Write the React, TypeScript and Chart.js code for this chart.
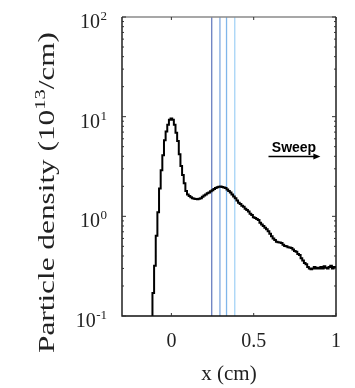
import React, { useEffect, useRef } from "react";
import { Chart, registerables } from "chart.js";

Chart.register(...registerables);

// Left edges of the histogram bins (cm) and the particle density in each bin (10^13 /cm)
const binEdges = [
  -0.125, -0.115, -0.105, -0.095, -0.085, -0.075, -0.065, -0.055, -0.045, -0.035,
  -0.025, -0.015, -0.005, 0.005, 0.015, 0.025, 0.035, 0.045, 0.055, 0.065,
  0.075, 0.085, 0.095, 0.105, 0.115, 0.125, 0.135, 0.145, 0.155, 0.165,
  0.175, 0.185, 0.195, 0.205, 0.215, 0.225, 0.235, 0.245, 0.255, 0.265,
  0.275, 0.285, 0.295, 0.305, 0.315, 0.325, 0.335, 0.345, 0.355, 0.365,
  0.375, 0.385, 0.395, 0.405, 0.415, 0.425, 0.435, 0.445, 0.455, 0.465,
  0.475, 0.485, 0.495, 0.505, 0.515, 0.525, 0.535, 0.545, 0.555, 0.565,
  0.575, 0.585, 0.595, 0.605, 0.615, 0.625, 0.635, 0.645, 0.655, 0.665,
  0.675, 0.685, 0.695, 0.705, 0.715, 0.725, 0.735, 0.745, 0.755, 0.765,
  0.775, 0.785, 0.795, 0.805, 0.815, 0.825, 0.835, 0.845, 0.855, 0.865,
  0.875, 0.885, 0.895, 0.905, 0.915, 0.925, 0.935, 0.945, 0.955, 0.965,
  0.975, 0.985, 0.995, 1.005,
];
const density = [
  0.03, 0.17, 0.32, 0.64, 1.1, 1.9, 2.9, 4.1, 5.8, 7.1,
  8.3, 9.3, 9.6, 9.3, 8.3, 6.9, 5.7, 4.2, 3.2, 2.6,
  2.15, 1.8, 1.66, 1.6, 1.55, 1.52, 1.5, 1.49, 1.48, 1.5,
  1.52, 1.57, 1.62, 1.66, 1.7, 1.73, 1.78, 1.83, 1.88, 1.92,
  1.96, 1.98, 1.99, 1.97, 1.95, 1.92, 1.86, 1.8, 1.73, 1.66,
  1.58, 1.52, 1.44, 1.37, 1.33, 1.28, 1.25, 1.19, 1.16, 1.12,
  1.06, 1.03, 0.98, 0.96, 0.94, 0.92, 0.86, 0.83, 0.8, 0.77,
  0.74, 0.71, 0.67, 0.63, 0.6, 0.58, 0.555, 0.55, 0.545, 0.54,
  0.52, 0.505, 0.5, 0.49, 0.488, 0.48, 0.465, 0.45, 0.44, 0.42,
  0.41, 0.38, 0.36, 0.34, 0.33, 0.31, 0.3, 0.295, 0.3, 0.31,
  0.3, 0.305, 0.3, 0.31, 0.3, 0.315, 0.305, 0.3, 0.31, 0.32,
  0.3, 0.31, 0.305, 0.305,
];

// Vertical marker lines (cm) and their colours
const markerX = [0.245, 0.295, 0.335, 0.385];
const markerColors = ["#6a7fc0", "#82abe0", "#80b6ea", "#a6d4f6"];

// Axis ticks
const xTickValues = [0, 0.5, 1];
const xTickLabels = ["0", "0.5", "1"];
const yDecadeValues = [0.1, 1, 10, 100];
const yDecadeExponents = ["-1", "0", "1", "2"];

// Annotation
const sweepText = "Sweep";
const sweepTextAt = [0.61, 4.4];
const sweepArrowX = [0.59, 0.905];
const sweepArrowY = 3.98;

const SERIF = '"Liberation Serif", "Times New Roman", serif';
const SANS = '"Liberation Sans", Arial, sans-serif';

const framePlugin = {
  id: "frameAndLabels",
  afterDatasetsDraw(chart: any) {
    const { ctx, chartArea: a, scales } = chart;
    const xs = scales.x;
    const ys = scales.y;
    ctx.save();

    // frame
    ctx.lineCap = "butt";
    ctx.strokeStyle = "#8a8a8a";
    ctx.lineWidth = 1.5;
    ctx.beginPath();
    ctx.moveTo(a.left, a.top);
    ctx.lineTo(a.right, a.top);
    ctx.stroke();
    ctx.strokeStyle = "#111";
    ctx.lineWidth = 1.4;
    ctx.beginPath();
    ctx.moveTo(a.left, a.top);
    ctx.lineTo(a.left, a.bottom);
    ctx.lineTo(a.right, a.bottom);
    ctx.lineTo(a.right, a.top);
    ctx.stroke();

    // y ticks (major + minor, inward on both sides)
    ctx.lineWidth = 1;
    ctx.strokeStyle = "#333";
    for (let d = 0; d < yDecadeValues.length; d++) {
      const base = yDecadeValues[d];
      for (let m = 1; m <= 9; m++) {
        const v = base * m;
        if (v > 100) break;
        const py = ys.getPixelForValue(v);
        const len = m === 1 ? 4 : 2;
        ctx.beginPath();
        ctx.moveTo(a.left, py);
        ctx.lineTo(a.left + len, py);
        ctx.moveTo(a.right, py);
        ctx.lineTo(a.right - len, py);
        ctx.stroke();
      }
    }
    // x ticks
    for (const v of xTickValues) {
      const px = xs.getPixelForValue(v);
      ctx.beginPath();
      ctx.moveTo(px, a.bottom);
      ctx.lineTo(px, a.bottom - 3);
      ctx.moveTo(px, a.top);
      ctx.lineTo(px, a.top + 3);
      ctx.stroke();
    }

    ctx.fillStyle = "#222";
    // y tick labels: 10 with superscript exponent
    const rightEdge = a.left - 15;
    for (let i = 0; i < yDecadeValues.length; i++) {
      const py = ys.getPixelForValue(yDecadeValues[i]);
      ctx.font = `13px ${SERIF}`;
      ctx.textAlign = "left";
      ctx.textBaseline = "alphabetic";
      const ew = ctx.measureText(yDecadeExponents[i]).width;
      const ex = rightEdge - ew;
      ctx.fillText(yDecadeExponents[i], ex, py + 3);
      ctx.font = `20px ${SERIF}`;
      ctx.textAlign = "right";
      ctx.fillText("10", ex - 0.5, py + 11);
    }

    // x tick labels
    ctx.font = `20px ${SERIF}`;
    ctx.textAlign = "center";
    ctx.textBaseline = "alphabetic";
    for (let i = 0; i < xTickValues.length; i++) {
      ctx.fillText(xTickLabels[i], xs.getPixelForValue(xTickValues[i]), a.bottom + 31);
    }

    // x title
    ctx.font = `21px ${SERIF}`;
    ctx.fillText("x (cm)", (a.left + a.right) / 2, a.bottom + 64);

    // y title (rotated) with superscript
    const partA = "Particle density (10";
    const partSup = "13";
    const partB = "/cm)";
    const big = `23px ${SERIF}`;
    const small = `15px ${SERIF}`;
    ctx.font = big;
    const wA = ctx.measureText(partA).width;
    const wB = ctx.measureText(partB).width;
    ctx.font = small;
    const wS = ctx.measureText(partSup).width;
    const total = wA + wS + wB;
    const targetLen = 321;
    const k = targetLen / total;
    ctx.save();
    ctx.translate(54, 192.5);
    ctx.rotate(-Math.PI / 2);
    ctx.scale(k, 1);
    ctx.textAlign = "left";
    let cx = -total / 2;
    ctx.font = big;
    ctx.fillText(partA, cx, 0);
    cx += wA;
    ctx.font = small;
    ctx.fillText(partSup, cx, -9);
    cx += wS;
    ctx.font = big;
    ctx.fillText(partB, cx, 0);
    ctx.restore();

    // Sweep annotation
    ctx.fillStyle = "#000";
    ctx.font = `bold 14px ${SANS}`;
    ctx.textAlign = "left";
    ctx.fillText(sweepText, xs.getPixelForValue(sweepTextAt[0]), ys.getPixelForValue(sweepTextAt[1]));
    const ay = ys.getPixelForValue(sweepArrowY);
    const ax0 = xs.getPixelForValue(sweepArrowX[0]);
    const ax1 = xs.getPixelForValue(sweepArrowX[1]);
    ctx.strokeStyle = "#000";
    ctx.lineWidth = 1.5;
    ctx.beginPath();
    ctx.moveTo(ax0, ay);
    ctx.lineTo(ax1 - 5, ay);
    ctx.stroke();
    ctx.beginPath();
    ctx.moveTo(ax1, ay);
    ctx.lineTo(ax1 - 7, ay - 3);
    ctx.lineTo(ax1 - 7, ay + 3);
    ctx.closePath();
    ctx.fill();

    ctx.restore();
  },
};

export default function App() {
  const canvasRef = useRef<HTMLCanvasElement | null>(null);

  useEffect(() => {
    const canvas = canvasRef.current;
    if (!canvas) return;
    const curve = binEdges.map((x, i) => ({ x, y: density[i] }));
    const markerSets = markerX.map((x, i) => ({
      label: `marker${i}`,
      data: [
        { x, y: 0.1 },
        { x, y: 100 },
      ],
      borderColor: markerColors[i],
      borderWidth: 1.3,
      pointRadius: 0,
      fill: false,
      order: 1,
    }));
    const chart = new Chart(canvas, {
      type: "line",
      data: {
        datasets: [
          {
            label: "density",
            data: curve,
            borderColor: "#000",
            borderWidth: 2,
            stepped: "before",
            pointRadius: 0,
            fill: false,
            order: 0,
          },
          ...markerSets,
        ],
      },
      options: {
        animation: false,
        responsive: false,
        devicePixelRatio: 1,
        layout: { padding: { left: 0, top: 17, right: 19, bottom: 0 } },
        plugins: {
          legend: { display: false },
          tooltip: { enabled: false },
        },
        events: [],
        scales: {
          x: {
            type: "linear",
            min: -0.3,
            max: 1,
            grid: { display: false },
            border: { display: false },
            ticks: { display: false },
            afterFit: (s: any) => {
              s.height = 72;
            },
          },
          y: {
            type: "logarithmic",
            min: 0.1,
            max: 100,
            grid: { display: false },
            border: { display: false },
            ticks: { display: false },
            afterFit: (s: any) => {
              s.width = 122;
            },
          },
        },
      },
      plugins: [framePlugin],
    } as any);
    return () => chart.destroy();
  }, []);

  return (
    <div style={{ position: "absolute", left: 0, top: 0, width: 355, height: 388, background: "#fff" }}>
      <canvas ref={canvasRef} width={355} height={388} style={{ display: "block" }} />
    </div>
  );
}
